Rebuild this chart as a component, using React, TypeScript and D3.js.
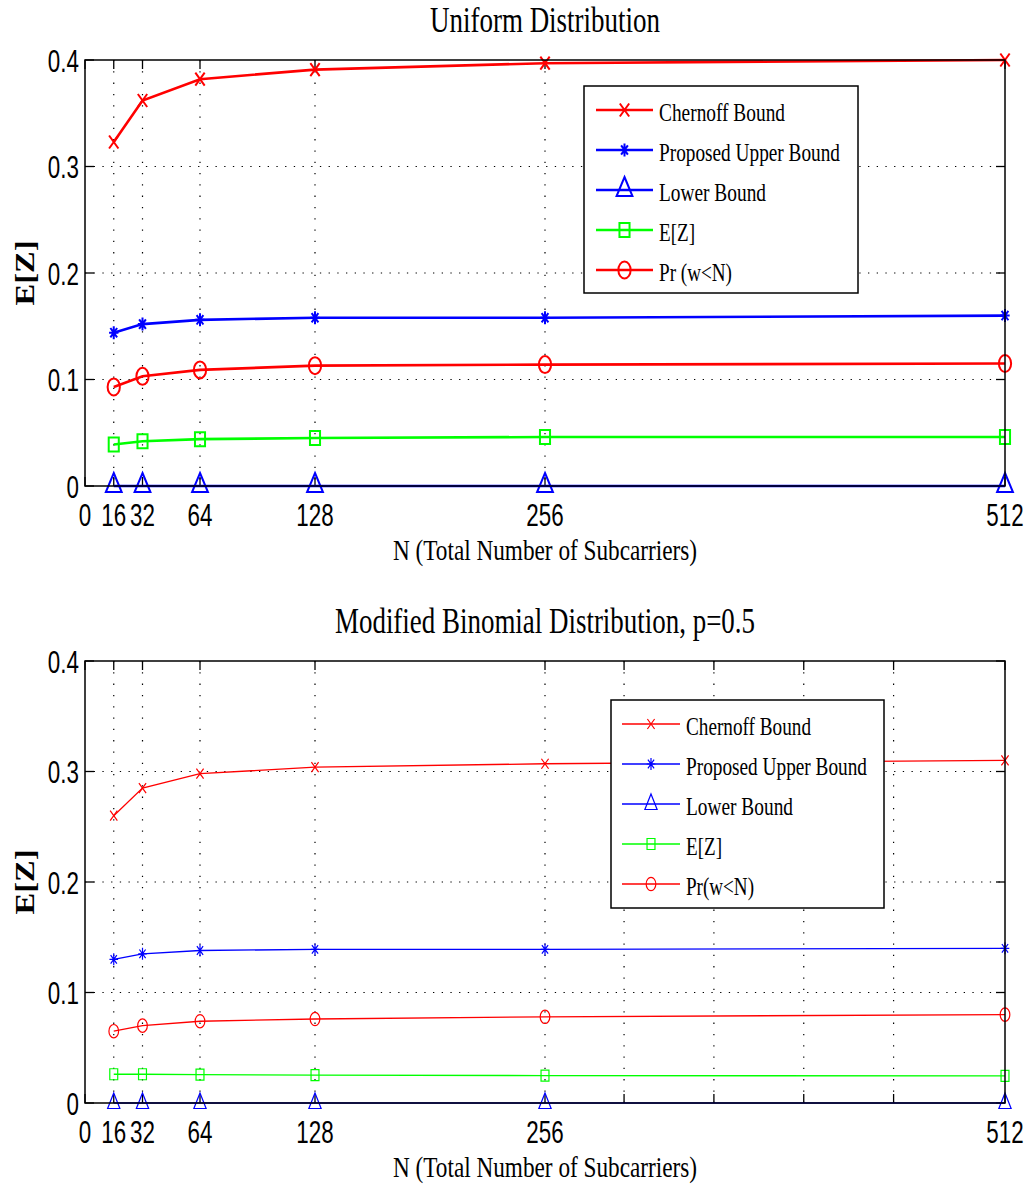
import React from 'react';
import * as d3 from 'd3';

// N values on the x axis
const nValues = [16, 32, 64, 128, 256, 512];

// Uniform distribution (top panel)
const uniformChernoff = [0.323, 0.362, 0.382, 0.391, 0.397, 0.400];
const uniformUpper = [0.144, 0.152, 0.156, 0.158, 0.158, 0.160];
const uniformLower = [0, 0, 0, 0, 0, 0];
const uniformEZ = [0.039, 0.042, 0.044, 0.045, 0.046, 0.046];
const uniformPr = [0.093, 0.103, 0.109, 0.113, 0.114, 0.115];

// Modified binomial distribution, p=0.5 (bottom panel)
const binomChernoff = [0.260, 0.285, 0.298, 0.304, 0.307, 0.310];
const binomUpper = [0.130, 0.135, 0.138, 0.139, 0.139, 0.140];
const binomLower = [0, 0, 0, 0, 0, 0];
const binomEZ = [0.026, 0.026, 0.0257, 0.0253, 0.0248, 0.0245];
const binomPr = [0.065, 0.070, 0.074, 0.076, 0.078, 0.080];

const xTickValues = [0, 16, 32, 64, 128, 256, 512];
const xTickLabels = ['0', '16', '32', '64', '128', '256', '512'];
const xExtraGrid = [300, 350, 400, 450]; // unlabeled ticks in bottom panel
const yTickValues = [0, 0.1, 0.2, 0.3, 0.4];
const yTickLabels = ['0', '0.1', '0.2', '0.3', '0.4'];

const uniformLegend = ['Chernoff Bound', 'Proposed Upper Bound', 'Lower Bound', 'E[Z]', 'Pr (w<N)'];
const binomLegend = ['Chernoff Bound', 'Proposed Upper Bound', 'Lower Bound', 'E[Z]', 'Pr(w<N)'];
const legendWidthsTop = [126, 181, 107, 36, 73];
const legendWidthsBottom = [125, 181, 107, 36, 68];

const seriesStyle = [
  { color: '#ff0000', marker: 'x' },
  { color: '#0000ff', marker: 'star' },
  { color: '#0000ff', marker: 'tri' },
  { color: '#00ff00', marker: 'square' },
  { color: '#ff0000', marker: 'circle' },
];

const SX = 0.72; // whole figure looks horizontally squeezed

type MarkerSizes = { x: number; star: number; circle: number; square: number; triW: number; triUp: number; triDown: number };

function Marker({ type, cx, cy, color, sw, s }: { type: string; cx: number; cy: number; color: string; sw: number; s: MarkerSizes }) {
  let el: React.ReactNode = null;
  if (type === 'x') {
    const h = s.x;
    el = <path d={`M${-h},${-h}L${h},${h}M${-h},${h}L${h},${-h}`} />;
  } else if (type === 'star') {
    const h = s.star;
    const d = h * 0.72;
    el = <path d={`M0,${-h}L0,${h}M${-h},0L${h},0M${-d},${-d}L${d},${d}M${-d},${d}L${d},${-d}`} />;
  } else if (type === 'circle') {
    el = <circle r={s.circle} />;
  } else if (type === 'square') {
    const h = s.square;
    el = <rect x={-h} y={-h} width={2 * h} height={2 * h} />;
  } else if (type === 'tri') {
    el = <path d={`M0,${-s.triUp}L${s.triW},${s.triDown}L${-s.triW},${s.triDown}Z`} />;
  }
  return (
    <g transform={`translate(${cx},${cy}) scale(${SX},1)`} fill="none" stroke={color} strokeWidth={sw}
      style={{ vectorEffect: 'non-scaling-stroke' } as any}>
      {React.Children.map(el, (c: any) => React.cloneElement(c, { vectorEffect: 'non-scaling-stroke' }))}
    </g>
  );
}

type PanelProps = {
  top: number;
  bottom: number;
  title: string;
  titleWidth: number;
  series: number[][];
  legend: string[];
  legendWidths: number[];
  legendBox: { x: number; y: number; w: number; h: number; lineX0: number; lineX1: number; textX: number; rowY: number[] };
  lineWidth: number;
  markerWidth: number;
  sizes: MarkerSizes;
  extraGrid: number[];
};

function Panel(p: PanelProps) {
  const left = 85;
  const right = 1005;
  const x = d3.scaleLinear().domain([0, 512]).range([left, right]);
  const y = d3.scaleLinear().domain([0, 0.4]).range([p.bottom, p.top]);
  const line = d3.line<number>().x((_, i) => x(nValues[i])).y(v => y(v));
  const gridX = [16, 32, 64, 128, 256, ...p.extraGrid];
  const gridY = [0.1, 0.2, 0.3];
  const tickLen = 9;
  const allXTicks = [...xTickValues, ...p.extraGrid];
  const lb = p.legendBox;

  return (
    <g>
      {/* title */}
      <text x={(left + right) / 2} y={p.top - 28} textAnchor="middle" fontFamily="Liberation Serif" fontSize={35}
        textLength={p.titleWidth} lengthAdjust="spacingAndGlyphs">{p.title}</text>

      {/* grid */}
      {gridX.map(v => (
        <line key={'gx' + v} x1={x(v)} x2={x(v)} y1={p.top} y2={p.bottom} stroke="#000" strokeWidth={1.2} strokeDasharray="1.3,10" />
      ))}
      {gridY.map(v => (
        <line key={'gy' + v} x1={left} x2={right} y1={y(v)} y2={y(v)} stroke="#000" strokeWidth={1.2} strokeDasharray="1.3,7.4" />
      ))}

      {/* ticks (inward, all four sides) */}
      {allXTicks.map(v => (
        <g key={'tx' + v}>
          <line x1={x(v)} x2={x(v)} y1={p.bottom} y2={p.bottom - tickLen} stroke="#000" strokeWidth={1.3} />
          <line x1={x(v)} x2={x(v)} y1={p.top} y2={p.top + tickLen} stroke="#000" strokeWidth={1.3} />
        </g>
      ))}
      {yTickValues.map(v => (
        <g key={'ty' + v}>
          <line x1={left} x2={left + tickLen} y1={y(v)} y2={y(v)} stroke="#000" strokeWidth={1.3} />
          <line x1={right} x2={right - tickLen} y1={y(v)} y2={y(v)} stroke="#000" strokeWidth={1.3} />
        </g>
      ))}

      {/* series */}
      {p.series.map((vals, si) => (
        <path key={'l' + si} d={line(vals) || ''} fill="none" stroke={seriesStyle[si].color} strokeWidth={p.lineWidth} />
      ))}
      {p.series.map((vals, si) =>
        vals.map((v, i) => (
          <Marker key={'m' + si + '-' + i} type={seriesStyle[si].marker} cx={x(nValues[i])} cy={y(v)}
            color={seriesStyle[si].color} sw={p.markerWidth} s={p.sizes} />
        ))
      )}

      {/* axes box */}
      <rect x={left} y={p.top} width={right - left} height={p.bottom - p.top} fill="none" stroke="#000" strokeWidth={1.5} />

      {/* tick labels */}
      {xTickValues.map((v, i) => (
        <text key={'xl' + v} transform={`translate(${x(v)},${p.bottom + 39.5}) scale(0.7,1)`} textAnchor="middle"
          fontFamily="Liberation Sans" fontSize={32}>{xTickLabels[i]}</text>
      ))}
      {yTickValues.map((v, i) => (
        <text key={'yl' + v} transform={`translate(${left - 6},${y(v) + 11.5}) scale(0.7,1)`} textAnchor="end"
          fontFamily="Liberation Sans" fontSize={32}>{yTickLabels[i]}</text>
      ))}

      {/* axis labels */}
      <text x={(left + right) / 2} y={p.bottom + 74} textAnchor="middle" fontFamily="Liberation Serif" fontSize={30}
        textLength={304} lengthAdjust="spacingAndGlyphs">N (Total Number of Subcarriers)</text>
      <text transform={`translate(34,${(p.top + p.bottom) / 2}) rotate(-90) scale(1,0.78)`} textAnchor="middle"
        fontFamily="Liberation Serif" fontWeight="bold" fontSize={34} textLength={65} lengthAdjust="spacingAndGlyphs">E[Z]</text>

      {/* legend */}
      <rect x={lb.x} y={lb.y} width={lb.w} height={lb.h} fill="#fff" stroke="#000" strokeWidth={1.5} />
      {p.legend.map((name, i) => (
        <g key={'lg' + i}>
          <line x1={lb.lineX0} x2={lb.lineX1} y1={lb.rowY[i]} y2={lb.rowY[i]} stroke={seriesStyle[i].color} strokeWidth={p.lineWidth} />
          <Marker type={seriesStyle[i].marker} cx={(lb.lineX0 + lb.lineX1) / 2} cy={lb.rowY[i]} color={seriesStyle[i].color}
            sw={p.markerWidth} s={p.sizes} />
          <text x={lb.textX} y={lb.rowY[i] + 11} fontFamily="Liberation Serif" fontSize={26}
            textLength={p.legendWidths[i]} lengthAdjust="spacingAndGlyphs">{name}</text>
        </g>
      ))}
    </g>
  );
}

export default function App() {
  return (
    <svg width={1029} height={1188} style={{ position: 'absolute', left: 0, top: 0, background: '#fff' }}>
      <rect width={1029} height={1188} fill="#fff" />
      <Panel
        top={60}
        bottom={486}
        title="Uniform Distribution"
        titleWidth={230}
        series={[uniformChernoff, uniformUpper, uniformLower, uniformEZ, uniformPr]}
        legend={uniformLegend}
        legendWidths={legendWidthsTop}
        legendBox={{ x: 584, y: 86, w: 274, h: 207, lineX0: 596, lineX1: 653, textX: 659, rowY: [110, 150, 190, 230, 270] }}
        lineWidth={2.6}
        markerWidth={2}
        sizes={{ x: 6.5, star: 6.5, circle: 8.5, square: 7, triW: 11, triUp: 13, triDown: 6 }}
        extraGrid={[]}
      />
      <Panel
        top={661}
        bottom={1103}
        title="Modified Binomial Distribution, p=0.5"
        titleWidth={420}
        series={[binomChernoff, binomUpper, binomLower, binomEZ, binomPr]}
        legend={binomLegend}
        legendWidths={legendWidthsBottom}
        legendBox={{ x: 611, y: 700, w: 273, h: 208, lineX0: 622, lineX1: 680, textX: 686, rowY: [724, 764, 804, 844, 884] }}
        lineWidth={1.3}
        markerWidth={1.2}
        sizes={{ x: 5, star: 6, circle: 6.7, square: 5.5, triW: 8.5, triUp: 10, triDown: 5.5 }}
        extraGrid={xExtraGrid}
      />
    </svg>
  );
}
